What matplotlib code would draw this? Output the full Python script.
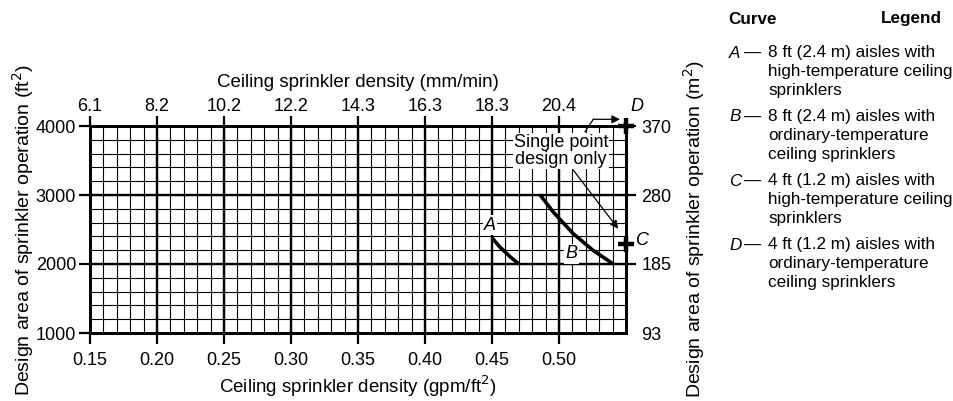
import numpy as np
import matplotlib
matplotlib.use("Agg")
import matplotlib.pyplot as plt

plt.rcParams['font.family'] = ['Liberation Sans', 'DejaVu Sans']

# ---- data ----
gpm_ticks = [0.15, 0.20, 0.25, 0.30, 0.35, 0.40, 0.45, 0.50]
gpm_labels = ['0.15', '0.20', '0.25', '0.30', '0.35', '0.40', '0.45', '0.50']
mm_labels = ['6.1', '8.2', '10.2', '12.2', '14.3', '16.3', '18.3', '20.4']
ft2_ticks = [1000, 2000, 3000, 4000]
ft2_labels = ['1000', '2000', '3000', '4000']
m2_labels = ['93', '185', '280', '370']

curve_a_x = [0.450, 0.456, 0.4634, 0.470]
curve_a_y = [2380, 2243, 2108, 2000]
curve_b_x = [0.486, 0.4957, 0.5107, 0.5256, 0.5405]
curve_b_y = [3000, 2753, 2438, 2195, 2000]
point_c = (0.55, 2285)
point_d = (0.55, 4000)

legend_entries = [
    ('A', '\u2014', ['8 ft (2.4 m) aisles with', 'high-temperature ceiling', 'sprinklers']),
    ('B', '\u2014', ['8 ft (2.4 m) aisles with', 'ordinary-temperature', 'ceiling sprinklers']),
    ('C', '\u2014', ['4 ft (1.2 m) aisles with', 'high-temperature ceiling', 'sprinklers']),
    ('D', '\u2014', ['4 ft (1.2 m) aisles with', 'ordinary-temperature', 'ceiling sprinklers']),
]

W, H = 954, 401
fig = plt.figure(figsize=(W / 100, H / 100), dpi=100)
L, R, T, B = 90, 626, 126, 333
ax = fig.add_axes([L / W, 1 - B / H, (R - L) / W, (B - T) / H])
ax.set_xlim(0.15, 0.55)
ax.set_ylim(1000, 4000)

FS = 13.0     # tick labels / annotations
XFS = 13.5    # x-axis titles
YFS = 14.0    # y-axis titles
LFS = 12.3    # legend block
# grid
for xv in np.arange(0.16, 0.55, 0.01):
    ax.axvline(xv, color='black', lw=0.8, zorder=1)
for yv in np.arange(1200, 4000, 200):
    ax.axhline(yv, color='black', lw=0.8, zorder=1)
for xv in gpm_ticks[1:]:
    ax.axvline(xv, color='black', lw=1.7, zorder=1.1)
for yv in ft2_ticks[1:-1]:
    ax.axhline(yv, color='black', lw=1.7, zorder=1.1)
for s in ax.spines.values():
    s.set_linewidth(1.9)

ax.set_xticks(gpm_ticks)
ax.set_xticklabels(gpm_labels, fontsize=FS)
ax.set_yticks(ft2_ticks)
ax.set_yticklabels(ft2_labels, fontsize=FS)
ax.tick_params(axis='x', direction='out', length=8, width=1.6, pad=6)
ax.tick_params(axis='y', direction='out', length=8, width=1.6, pad=2)
ax.xaxis.get_major_ticks()[0].tick1line.set_visible(False)
ax.yaxis.get_major_ticks()[0].tick1line.set_visible(False)
ax.set_xlabel('Ceiling sprinkler density (gpm/ft$^2$)', fontsize=XFS, labelpad=3)
ax.set_ylabel('Design area of sprinkler operation (ft$^2$)', fontsize=YFS, labelpad=0)

axt = ax.twiny()
axt.set_xlim(ax.get_xlim())
axt.set_xticks(gpm_ticks)
axt.set_xticklabels(mm_labels, fontsize=FS)
axt.tick_params(axis='x', direction='out', length=7, width=1.6, pad=1)
axt.set_xlabel('Ceiling sprinkler density (mm/min)', fontsize=XFS, labelpad=8)

axr = ax.twinx()
axr.set_ylim(ax.get_ylim())
axr.set_yticks(ft2_ticks)
axr.set_yticklabels(m2_labels, fontsize=FS)
axr.tick_params(axis='y', direction='out', length=7, width=1.6, pad=4)
axr.yaxis.get_major_ticks()[0].tick2line.set_visible(False)
axr.set_ylabel('Design area of sprinkler operation (m$^2$)', fontsize=YFS, labelpad=7)
for a in (axt, axr):
    for s in a.spines.values():
        s.set_linewidth(1.9)

# curves
ax.plot(curve_a_x, curve_a_y, color='black', lw=2.6, solid_capstyle='butt', zorder=3)
ax.plot(curve_b_x, curve_b_y, color='black', lw=2.6, solid_capstyle='butt', zorder=3)
for p in (point_c, point_d):
    ax.plot([p[0]], [p[1]], marker='+', ms=12, mew=3.2, color='black', clip_on=False, zorder=5)

white = dict(facecolor='white', edgecolor='none', pad=1.0)
ax.text(0.4485, 2560, 'A', fontsize=FS, style='italic', ha='center', va='center', bbox=white, zorder=4)
ax.text(0.5095, 2150, 'B', fontsize=FS, style='italic', ha='center', va='center', bbox=white, zorder=4)
ax.text(0.5625, 2340, 'C', fontsize=FS, style='italic', ha='center', va='center', zorder=4, clip_on=False)
ax.text(0.5585, 4285, 'D', fontsize=FS, style='italic', ha='center', va='center', zorder=4, clip_on=False)

ax.text(0.5015, 3640, 'Single point\ndesign only', fontsize=FS, ha='center', va='center',
        linespacing=1.0, bbox=dict(facecolor='white', edgecolor='none', pad=0.5), zorder=4)

# arrow to D (kinked)
ax.plot([0.5194, 0.5256], [3917, 4097], color='black', lw=0.9, clip_on=False, zorder=6)
ax.annotate('', xy=(0.5455, 4097), xytext=(0.5256, 4097),
            arrowprops=dict(arrowstyle='-|>', color='black', lw=0.9, mutation_scale=12,
                            shrinkA=0, shrinkB=0), annotation_clip=False, zorder=6)
# arrow to C
ax.annotate('', xy=(0.5442, 2511), xytext=(0.5107, 3360),
            arrowprops=dict(arrowstyle='-|>', color='black', lw=0.9, mutation_scale=12,
                            shrinkA=0, shrinkB=0), annotation_clip=False, zorder=6)

# legend block
def fx(px):
    return px / W
def fy(py):
    return 1 - py / H

fig.text(fx(728), fy(19), 'Curve', fontsize=LFS, fontweight='bold', ha='left', va='center')
fig.text(fx(942), fy(19), 'Legend', fontsize=LFS, fontweight='bold', ha='right', va='center')
entry_y = [53, 117, 181, 245]
for (letter, dash, lines), y0 in zip(legend_entries, entry_y):
    fig.text(fx(729), fy(y0), letter, fontsize=LFS, style='italic', ha='left', va='center')
    fig.text(fx(744), fy(y0), dash, fontsize=LFS, ha='left', va='center')
    for i, line in enumerate(lines):
        fig.text(fx(768), fy(y0 + 18.7 * i), line, fontsize=LFS, ha='left', va='center')

fig.savefig('out.png', dpi=100)
